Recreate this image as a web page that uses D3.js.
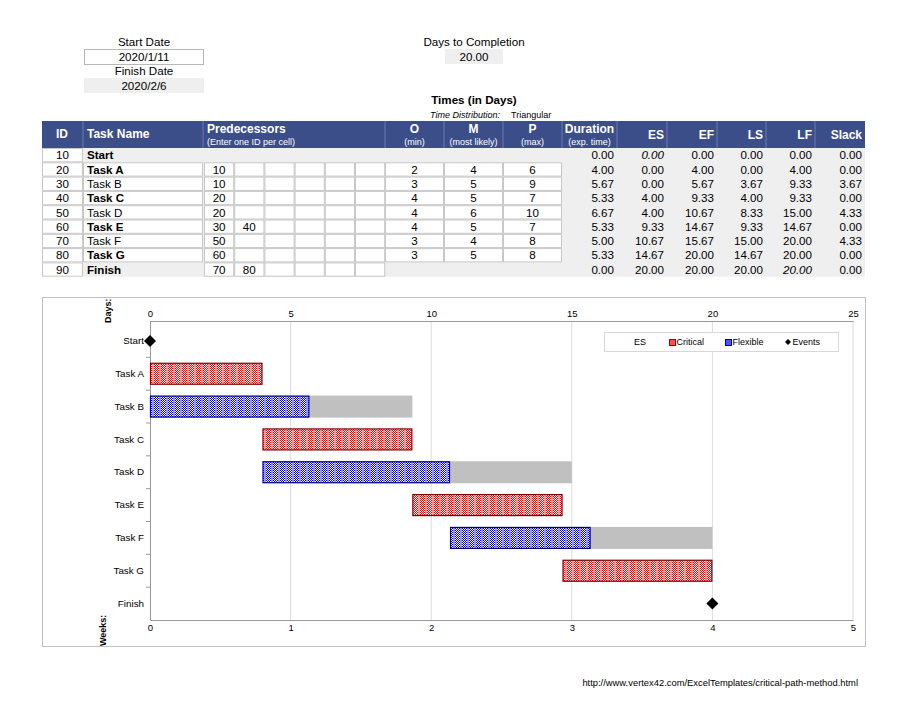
<!DOCTYPE html>
<html>
<head>
<meta charset="utf-8">
<script src="https://cdn.jsdelivr.net/npm/d3@7"></script>
<style>
	body { margin: 0; background: white; }
	svg text { font-family: 'Liberation Sans', Arial, sans-serif; }
</style>
</head>
<body>
<div id="outer"></div>
<script>
////////// DATA //////////
const ids = [10, 20, 30, 40, 50, 60, 70, 80, 90];
const taskNames = ['Start', 'Task A', 'Task B', 'Task C', 'Task D', 'Task E', 'Task F', 'Task G', 'Finish'];
const predecessors = [[], [10], [10], [20], [20], [30, 40], [50], [60], [70, 80]];
const optimistic = [null, 2, 3, 4, 4, 4, 3, 3, null];
const mostLikely = [null, 4, 5, 5, 6, 5, 4, 5, null];
const pessimistic = [null, 6, 9, 7, 10, 7, 8, 8, null];
const durations = [0, 4, 5.67, 5.33, 6.67, 5.33, 5, 5.33, 0];
const earlyStart = [0, 0, 0, 4, 4, 9.33, 10.67, 14.67, 20];
const earlyFinish = [0, 4, 5.67, 9.33, 10.67, 14.67, 15.67, 20, 20];
const lateStart = [0, 0, 3.67, 4, 8.33, 9.33, 15, 14.67, 20];
const lateFinish = [0, 4, 9.33, 9.33, 15, 14.67, 20, 20, 20];
const slack = [0, 0, 3.67, 0, 4.33, 0, 4.33, 0, 0];
const dayTicks = [0, 5, 10, 15, 20, 25];
const weekTicks = [0, 1, 2, 3, 4, 5];
const legendItems = ['ES', 'Critical', 'Flexible', 'Events'];

const startDate = '2020/1/11';
const finishDate = '2020/2/6';
const daysToCompletion = '20.00';

////////// Hard Coded Defs //////////
const fmt = d3.format('.2f');
const headerBlue = '#3c4e8a';
const cellGrey = '#efefef';
const borderGrey = '#b8b8b8';
const fs = 11.6;

const svg = d3.select('#outer').append('svg')
	.attr('width', 920)
	.attr('height', 711);

////////////////////////////////////////////////////////////////
	// Top info block
////////////////////////////////////////////////////////////////
const infoGroup = svg.append('g').attr('class', 'topInfo');
const label = (x, y, t, opts = {}) => infoGroup.append('text')
	.attr('x', x).attr('y', y)
	.attr('text-anchor', opts.anchor || 'middle')
	.attr('font-size', opts.size || fs)
	.attr('font-weight', opts.bold ? 'bold' : null)
	.attr('font-style', opts.italic ? 'italic' : null)
	.attr('fill', '#000')
	.text(t);

label(144, 46, 'Start Date');
infoGroup.append('rect').attr('x', 84.5).attr('y', 49.5).attr('width', 119).attr('height', 15)
	.attr('fill', 'white').attr('stroke', borderGrey);
label(144, 61, startDate);
label(144, 75, 'Finish Date');
infoGroup.append('rect').attr('x', 84).attr('y', 78).attr('width', 120).attr('height', 15).attr('fill', cellGrey);
label(144, 90, finishDate);

label(474, 46, 'Days to Completion');
infoGroup.append('rect').attr('x', 445).attr('y', 49).attr('width', 58).attr('height', 15).attr('fill', cellGrey);
label(474, 61, daysToCompletion);

label(474, 104, 'Times (in Days)', {bold: true});
label(500, 118, 'Time Distribution:', {anchor: 'end', size: 9, italic: true});
label(511, 118, 'Triangular', {anchor: 'start', size: 9});

////////////////////////////////////////////////////////////////
	// Table
////////////////////////////////////////////////////////////////
const table = svg.append('g').attr('class', 'table');
const tableLeft = 42, tableRight = 865;
const headTop = 121, headBottom = 148;
const rowH = 14.3;
const predX = d3.range(7).map(i => 204 + i * 30.2);
const cols = {
	id: [42, 83], name: [83, 203], pred: [203, 385],
	o: [385, 444], m: [444, 503], p: [503, 562],
	dur: [562, 617], es: [617, 667], ef: [667, 717],
	ls: [717, 766], lf: [766, 815], slack: [815, 865]
};
const rowScale = d3.scaleBand().domain(ids).range([headBottom, headBottom + rowH * ids.length]);

// header
table.append('rect').attr('x', tableLeft).attr('y', headTop)
	.attr('width', tableRight - tableLeft).attr('height', headBottom - headTop).attr('fill', headerBlue);
Object.values(cols).slice(1).forEach(c => table.append('line')
	.attr('x1', c[0]).attr('x2', c[0]).attr('y1', headTop).attr('y2', headBottom)
	.attr('stroke', '#6a7bb0').attr('stroke-width', 1));
const headText = (x, y, t, anchor, size, bold) => table.append('text')
	.attr('x', x).attr('y', y).attr('text-anchor', anchor)
	.attr('font-size', size).attr('font-weight', bold ? 'bold' : null)
	.attr('fill', 'white').text(t);
headText(62, 138, 'ID', 'middle', 12, true);
headText(87, 138, 'Task Name', 'start', 12, true);
headText(207, 133, 'Predecessors', 'start', 12, true);
headText(207, 145, '(Enter one ID per cell)', 'start', 9, false);
[['o', 'O', '(min)'], ['m', 'M', '(most likely)'], ['p', 'P', '(max)'], ['dur', 'Duration', '(exp. time)']].forEach(([k, a, b]) => {
	const cx = (cols[k][0] + cols[k][1]) / 2;
	headText(cx, 133, a, 'middle', 12, true);
	headText(cx, 145, b, 'middle', 9, false);
});
[['es', 'ES'], ['ef', 'EF'], ['ls', 'LS'], ['lf', 'LF'], ['slack', 'Slack']].forEach(([k, t]) => {
	headText(cols[k][1] - 3, 139, t, 'end', 12, true);
});

// body background
table.append('rect').attr('x', tableLeft + 41).attr('y', headBottom)
	.attr('width', tableRight - tableLeft - 41).attr('height', rowH * ids.length).attr('fill', cellGrey);

const whiteBox = (x, y, w, h) => table.append('rect')
	.attr('x', x + 0.5).attr('y', y + 0.5).attr('width', w - 1).attr('height', h - 1)
	.attr('fill', 'white').attr('stroke', '#c8c8c8').attr('stroke-width', 1);
const cellText = (x, y, t, anchor, bold, italic) => table.append('text')
	.attr('x', x).attr('y', y).attr('text-anchor', anchor)
	.attr('font-size', fs).attr('font-weight', bold ? 'bold' : null)
	.attr('font-style', italic ? 'italic' : null)
	.attr('fill', '#000').text(t);

ids.forEach((id, i) => {
	const y = rowScale(id);
	const isEvent = i === 0 || i === ids.length - 1;
	const ty = y + rowH - 3;
	whiteBox(cols.id[0], y, cols.id[1] - cols.id[0], rowH);
	cellText((cols.id[0] + cols.id[1]) / 2, ty, id, 'middle');
	if (!isEvent) whiteBox(cols.name[0], y, cols.name[1] - cols.name[0], rowH);
	cellText(87, ty, taskNames[i], 'start', slack[i] === 0);
	if (i > 0) {
		for (let k = 0; k < 6; k++) whiteBox(predX[k], y, predX[k + 1] - predX[k], rowH);
		predecessors[i].forEach((p, k) => cellText((predX[k] + predX[k + 1]) / 2, ty, p, 'middle'));
	}
	if (!isEvent) {
		[['o', optimistic], ['m', mostLikely], ['p', pessimistic]].forEach(([k, arr]) => {
			whiteBox(cols[k][0], y, cols[k][1] - cols[k][0], rowH);
			cellText((cols[k][0] + cols[k][1]) / 2, ty, arr[i], 'middle');
		});
	}
	[['dur', durations], ['es', earlyStart], ['ef', earlyFinish], ['ls', lateStart], ['lf', lateFinish], ['slack', slack]].forEach(([k, arr]) => {
		const italic = (k === 'es' && i === 0) || (k === 'lf' && i === ids.length - 1);
		cellText(cols[k][1] - 3, ty, fmt(arr[i]), 'end', false, italic);
	});
});

////////////////////////////////////////////////////////////////
	// Gantt chart
////////////////////////////////////////////////////////////////
const chart = svg.append('g').attr('class', 'chart');
chart.append('rect').attr('x', 42.5).attr('y', 297.5).attr('width', 823).attr('height', 349)
	.attr('fill', 'white').attr('stroke', '#c0c0c0');

const plot = {left: 150, right: 853, top: 321, bottom: 620, bandTop: 324.5};
const x = d3.scaleLinear().domain([0, 25]).range([plot.left, plot.right]);
const xWeeks = d3.scaleLinear().domain([0, 5]).range([plot.left, plot.right]);
const y = d3.scaleBand().domain(taskNames).range([plot.bandTop, plot.bottom]).paddingInner(0.33).paddingOuter(0.165);
const yOuter = d3.scaleBand().domain(taskNames).range([plot.bandTop, plot.bottom]);

// patterns
const defs = svg.append('defs');
const makePattern = (id, dark, light) => {
	const p = defs.append('pattern').attr('id', id).attr('patternUnits', 'userSpaceOnUse')
		.attr('width', 7).attr('height', 2);
	p.append('rect').attr('width', 7).attr('height', 2).attr('fill', 'white');
	[[0, 0], [1, 1], [2, 0], [3, 1], [4, 0]].forEach(([cx, cy]) => p.append('rect')
		.attr('x', cx).attr('y', cy).attr('width', 1).attr('height', 1).attr('fill', dark));
	p.append('rect').attr('x', 5).attr('width', 2).attr('height', 2).attr('fill', light);
};
makePattern('critPat', '#ff0000', '#ff9090');
makePattern('flexPat', '#0000ff', '#9090ff');

// gridlines
chart.append('g').selectAll('line').data(dayTicks.slice(1)).join('line')
	.attr('x1', d => x(d)).attr('x2', d => x(d))
	.attr('y1', plot.top).attr('y2', plot.bottom)
	.attr('stroke', '#dcdcdc');

// top axis (days)
const topAxis = chart.append('g').attr('transform', `translate(0,${plot.top})`)
	.call(d3.axisTop(x).tickValues(dayTicks).tickSize(0).tickPadding(4));
// bottom axis (weeks)
const bottomAxis = chart.append('g').attr('transform', `translate(0,${plot.bottom})`)
	.call(d3.axisBottom(xWeeks).tickValues(weekTicks).tickFormat(d3.format('d')).tickSize(0).tickPadding(4));
[topAxis, bottomAxis].forEach(a => {
	a.select('.domain').attr('stroke', '#999');
	a.selectAll('text').attr('font-size', 9.5).attr('fill', '#000')
		.attr('font-family', "'Liberation Sans', Arial, sans-serif");
});

// left axis
const leftAxis = chart.append('g').attr('transform', `translate(${plot.left},0)`)
	.call(d3.axisLeft(yOuter).tickSize(0).tickPadding(6));
leftAxis.select('.domain').attr('stroke', '#999').attr('d', `M0.5,${plot.top}V${plot.bottom}`);
leftAxis.selectAll('text').attr('font-size', 9.8).attr('fill', '#000')
	.attr('font-family', "'Liberation Sans', Arial, sans-serif");
chart.append('g').selectAll('line').data(taskNames.slice(1)).join('line')
	.attr('x1', plot.left - 4).attr('x2', plot.left)
	.attr('y1', d => yOuter(d)).attr('y2', d => yOuter(d))
	.attr('stroke', '#999');

// axis titles
chart.append('text').attr('transform', 'translate(111,323) rotate(-90)')
	.attr('font-size', 9).attr('font-weight', 'bold').text('Days:');
chart.append('text').attr('transform', 'translate(106,646) rotate(-90)')
	.attr('font-size', 9).attr('font-weight', 'bold').text('Weeks:');

// bars
const tasks = taskNames.map((name, i) => ({name, es: earlyStart[i], ef: earlyFinish[i], lf: lateFinish[i], slack: slack[i]}))
	.filter((d, i) => i > 0 && i < taskNames.length - 1);
const bars = chart.append('g').attr('class', 'bars');
bars.selectAll('.slackBar').data(tasks.filter(d => d.slack > 0)).join('rect')
	.attr('class', 'slackBar')
	.attr('x', d => x(d.ef)).attr('y', d => y(d.name))
	.attr('width', d => x(d.lf) - x(d.ef)).attr('height', y.bandwidth())
	.attr('fill', '#c0c0c0');
bars.selectAll('.taskBar').data(tasks).join('rect')
	.attr('class', 'taskBar')
	.attr('x', d => x(d.es) + 0.5).attr('y', d => y(d.name) + 0.5)
	.attr('width', d => x(d.ef) - x(d.es) - 1).attr('height', y.bandwidth() - 1)
	.attr('fill', d => d.slack > 0 ? 'url(#flexPat)' : 'url(#critPat)')
	.attr('stroke', d => d.slack > 0 ? '#000080' : '#800000')
	.attr('stroke-width', 1.2);

// events
const events = [0, taskNames.length - 1].map(i => ({name: taskNames[i], t: earlyStart[i]}));
chart.append('g').selectAll('path').data(events).join('path')
	.attr('transform', d => `translate(${x(d.t)},${yOuter(d.name) + yOuter.bandwidth() / 2})`)
	.attr('d', 'M0,-6L6,0L0,6L-6,0Z')
	.attr('fill', '#000');

// legend
const legend = chart.append('g').attr('class', 'legend');
legend.append('rect').attr('x', 604.5).attr('y', 332.5).attr('width', 234).attr('height', 19)
	.attr('fill', 'white').attr('stroke', '#d8d8d8');
const legX = [634, 669, 725, 785];
legendItems.forEach((t, i) => {
	const g = legend.append('g').attr('transform', `translate(${legX[i]},342)`);
	if (t === 'Critical' || t === 'Flexible') {
		g.append('rect').attr('x', 0.5).attr('y', -2.5).attr('width', 6).attr('height', 6)
			.attr('fill', t === 'Critical' ? '#ff5050' : '#5050ff')
			.attr('stroke', t === 'Critical' ? '#a00000' : '#000090');
	}
	if (t === 'Events') {
		g.append('path').attr('d', 'M3,-3L6,0L3,3L0,0Z').attr('fill', '#000');
	}
	g.append('text').attr('x', t === 'ES' ? 0 : 7.5).attr('y', 3)
		.attr('font-size', 9).text(t);
});

// footer url
svg.append('text').attr('x', 858).attr('y', 686).attr('text-anchor', 'end')
	.attr('font-size', 9.4).text('http://www.vertex42.com/ExcelTemplates/critical-path-method.html');
</script>
</body>
</html>
